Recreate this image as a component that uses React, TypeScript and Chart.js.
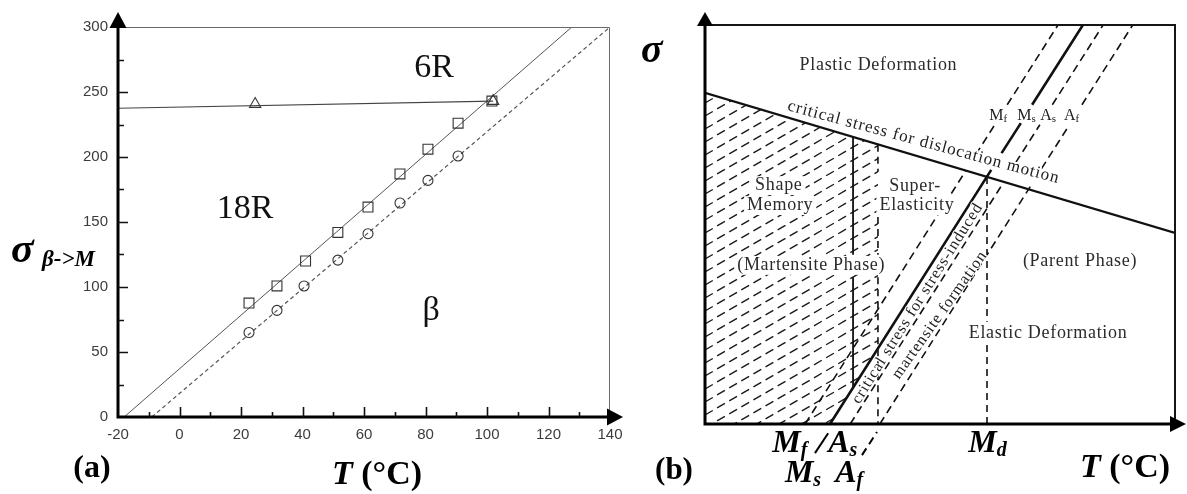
import React, { useEffect, useRef } from 'react';
import { Chart, registerables } from 'chart.js';

Chart.register(...registerables);

// ---------------- Panel (a): measured data ----------------
const xTicksA = [-20, 0, 20, 40, 60, 80, 100, 120, 140];
const yTicksA = [0, 50, 100, 150, 200, 250, 300];
const square18R_T = [22.6, 31.7, 41.0, 51.5, 61.3, 71.7, 80.8, 90.6, 101.6];
const square18R_S = [87.6, 100.8, 120.0, 142.0, 161.5, 187.0, 206.0, 226.0, 243.0];
const circleBeta_T = [22.6, 31.7, 40.5, 51.5, 61.3, 71.7, 80.8, 90.6];
const circleBeta_S = [65.0, 82.0, 100.8, 120.7, 141.0, 164.6, 182.0, 200.8];
const triangle6R_T = [24.6, 102.0];
const triangle6R_S = [240.7, 243.0];
const fit18R_T = [-18, 127.6];
const fit18R_S = [0, 300];
const fitBeta_T = [-9, 140];
const fitBeta_S = [0, 300];
const fit6R_T = [-20, 102];
const fit6R_S = [237.5, 243];
// phase labels inside panel (a): [text, T, sigma]
const phaseLabelsA: [string, number, number][] = [
  ['6R', 82.8, 261.5],
  ['18R', 21.3, 153],
  ['β', 81.8, 75],
];

// ---------------- Panel (b): schematic (0..100 units) ----------------
// each segment: [x1, y1, x2, y2]
const dislocationSeg = [[0, 83.0, 100, 47.9]];
const msSeg = [[26.6, 0, 60.9, 63.7], [63.1, 67.9, 67.2, 75.4], [69.6, 80, 80.4, 100]];
const mfSeg = [[21.3, 0, 55.5, 63.5], [57.6, 67.5, 61.65, 75], [64.3, 80, 75.1, 100]];
const asSeg = [[30.9, 0, 63.6, 60.7], [66.1, 65.5, 71.25, 75], [73.9, 80, 84.7, 100]];
const afSeg = [[37.2, 0, 69.2, 59.5], [71.6, 64, 77.55, 75], [80.2, 80, 91.0, 100]];
const smVertSeg = [[31.5, 71.9, 31.5, 42.4], [31.5, 36.8, 31.5, 9.3]];
const seVertSeg = [[36.8, 70.0, 36.8, 63.2], [36.8, 51.9, 36.8, 42.4], [36.8, 36.8, 36.8, 0]];
const mdSeg = [[60, 61.9, 60, 25.6], [60, 19.8, 60, 0]];
const hatchX = [0, 36.8, 36.8, 26.6, 0];
const hatchY = [83.0, 70.0, 19.0, 0, 0];
// region labels: [text, x, y]
const regionLabelsB: [string, number, number][] = [
  ['Plastic Deformation', 36.9, 88.7],
  ['Shape', 15.7, 58.6],
  ['Memory', 16.0, 53.6],
  ['Super-', 44.7, 58.4],
  ['Elasticity', 45.1, 53.6],
  ['(Martensite Phase)', 22.6, 38.6],
  ['(Parent Phase)', 79.8, 39.6],
  ['Elastic Deformation', 73.0, 21.6],
];
// text along lines: [text, x1, y1, x2, y2]
const alongLabelsB: [string, number, number, number, number][] = [
  ['critical stress for dislocation motion', 17.4, 78.7, 74.9, 60.4],
  ['critical stress for stress-induced', 31.9, 5.5, 58.1, 54.9],
  ['martensite formation', 40.4, 11.8, 59.1, 42.9],
];
// small transformation labels on top: [main, sub, x, y]
const topLabelsB: [string, string, number, number][] = [
  ['M', 'f', 62.4, 76.2],
  ['M', 's', 68.4, 76.2],
  ['A', 's', 73.0, 76.2],
  ['A', 'f', 78.0, 76.2],
];
// axis labels below panel (b): [main, sub, x(left), y(baseline)]
const bottomLabelsB: [string, string, number, number][] = [
  ['M', 'f', 14.3, -7.0],
  ['A', 's', 26.2, -7.0],
  ['M', 's', 17.0, -14.5],
  ['A', 'f', 27.7, -14.5],
  ['M', 'd', 56.0, -7.0],
];
const pointerSolid = [23.4, -7.3, 26.2, -2.3];
const pointerDashed = [33.4, -7.8, 36.6, -2.0];

const SERIF = '"Liberation Serif", "Times New Roman", serif';
const SANS = '"Liberation Sans", Arial, sans-serif';

function xy(xs: number[], ys: number[]) {
  return xs.map((x, i) => ({ x, y: ys[i] }));
}
function segs(list: number[][]) {
  const out: any[] = [];
  list.forEach((s) => {
    out.push({ x: s[0], y: s[1] }, { x: s[2], y: s[3] }, { x: s[2], y: null });
  });
  return out;
}

function fillText(ctx: CanvasRenderingContext2D, s: string, x: number, y: number, font: string, align: CanvasTextAlign = 'center', color = '#000', spacing = '0px') {
  ctx.font = font;
  ctx.textAlign = align;
  ctx.textBaseline = 'alphabetic';
  ctx.fillStyle = color;
  (ctx as any).letterSpacing = spacing;
  ctx.fillText(s, x, y);
  (ctx as any).letterSpacing = '0px';
}

function labelWithBg(ctx: CanvasRenderingContext2D, s: string, x: number, y: number, size: number, color: string, spacing: string) {
  ctx.font = `${size}px ${SERIF}`;
  (ctx as any).letterSpacing = spacing;
  const w = ctx.measureText(s).width;
  (ctx as any).letterSpacing = '0px';
  ctx.fillStyle = '#fff';
  ctx.fillRect(x - w / 2 - 3, y - size * 0.78, w + 6, size * 1.05);
  fillText(ctx, s, x, y, `${size}px ${SERIF}`, 'center', color, spacing);
}

function subText(ctx: CanvasRenderingContext2D, main: string, sub: string, x: number, y: number, mainFont: string, subFont: string, subDy: number, align: 'left' | 'center', color = '#000') {
  ctx.font = mainFont;
  (ctx as any).letterSpacing = '0px';
  const wm = ctx.measureText(main).width;
  ctx.font = subFont;
  const ws = ctx.measureText(sub).width;
  const left = align === 'left' ? x : x - (wm + ws) / 2;
  fillText(ctx, main, left, y, mainFont, 'left', color);
  fillText(ctx, sub, left + wm, y + subDy, subFont, 'left', color);
}

function alongText(ctx: CanvasRenderingContext2D, s: string, x1: number, y1: number, x2: number, y2: number, font: string, color: string, halo: number) {
  const dx = x2 - x1, dy = y2 - y1;
  const len = Math.hypot(dx, dy);
  const ang = Math.atan2(dy, dx);
  ctx.save();
  ctx.translate(x1, y1);
  ctx.rotate(ang);
  ctx.font = font;
  ctx.textAlign = 'left';
  ctx.textBaseline = 'alphabetic';
  (ctx as any).letterSpacing = '0px';
  const w = ctx.measureText(s).width;
  const sp = (len - w) / Math.max(1, s.length - 1);
  (ctx as any).letterSpacing = sp.toFixed(2) + 'px';
  if (halo > 0) {
    ctx.strokeStyle = '#fff';
    ctx.lineWidth = halo;
    ctx.lineJoin = 'round';
    ctx.strokeText(s, 0, 0);
  }
  ctx.fillStyle = color;
  ctx.fillText(s, 0, 0);
  (ctx as any).letterSpacing = '0px';
  ctx.restore();
}

const pluginA = {
  id: 'decorA',
  afterDraw(chart: any) {
    const { ctx, chartArea: a, scales } = chart;
    const x = scales.x, y = scales.y;
    ctx.save();
    // thin frame (top, right)
    ctx.strokeStyle = '#6a6a6a';
    ctx.lineWidth = 1;
    ctx.beginPath();
    ctx.moveTo(a.left, Math.round(y.getPixelForValue(300)) + 0.5);
    ctx.lineTo(Math.round(x.getPixelForValue(140)) - 0.5, Math.round(y.getPixelForValue(300)) + 0.5);
    ctx.lineTo(Math.round(x.getPixelForValue(140)) - 0.5, a.bottom);
    ctx.stroke();
    // thick axes
    ctx.strokeStyle = '#000';
    ctx.lineWidth = 3;
    ctx.beginPath();
    ctx.moveTo(a.left, a.bottom + 1.5);
    ctx.lineTo(a.left, a.top);
    ctx.moveTo(a.left - 1.5, a.bottom);
    ctx.lineTo(a.right, a.bottom);
    ctx.stroke();
    // arrows
    ctx.fillStyle = '#000';
    ctx.beginPath();
    ctx.moveTo(a.left - 8.5, a.top + 1);
    ctx.lineTo(a.left + 8.5, a.top + 1);
    ctx.lineTo(a.left, a.top - 15);
    ctx.closePath();
    ctx.fill();
    ctx.beginPath();
    ctx.moveTo(a.right - 3, a.bottom - 8.5);
    ctx.lineTo(a.right - 3, a.bottom + 8.5);
    ctx.lineTo(a.right + 13, a.bottom);
    ctx.closePath();
    ctx.fill();
    // inward ticks
    ctx.lineWidth = 1.6;
    ctx.strokeStyle = '#111';
    ctx.beginPath();
    for (let v = 25; v < 300; v += 25) {
      const py = Math.round(y.getPixelForValue(v)) + 0.5;
      const len = v % 50 === 0 ? 10 : 6;
      ctx.moveTo(a.left, py);
      ctx.lineTo(a.left + len, py);
    }
    for (let v = -10; v < 140; v += 10) {
      const px = Math.round(x.getPixelForValue(v)) + 0.5;
      const len = v % 20 === 0 ? 10 : 5;
      ctx.moveTo(px, a.bottom);
      ctx.lineTo(px, a.bottom - len);
    }
    ctx.stroke();
    // phase labels
    phaseLabelsA.forEach(([t, tx, ty]) => {
      fillText(ctx, t, x.getPixelForValue(tx), y.getPixelForValue(ty), `34px ${SERIF}`, 'center', '#111');
    });
    // axis titles
    fillText(ctx, 'σ', 11, 262, `bold italic 42px ${SERIF}`, 'left');
    fillText(ctx, 'β->M', 42, 266, `bold italic 23px ${SERIF}`, 'left');
    fillText(ctx, '(a)', 92, 477, `bold 32px ${SERIF}`, 'center');
    ctx.font = `bold italic 34px ${SERIF}`;
    const wT = ctx.measureText('T').width;
    fillText(ctx, 'T', 332, 484, `bold italic 34px ${SERIF}`, 'left');
    fillText(ctx, ' (°C)', 332 + wT, 484, `bold 34px ${SERIF}`, 'left');
    ctx.restore();
  },
};

const pluginB = {
  id: 'decorB',
  beforeDatasetsDraw(chart: any) {
    const { ctx, scales } = chart;
    const x = scales.x, y = scales.y;
    ctx.save();
    ctx.beginPath();
    hatchX.forEach((hx, i) => {
      const px = x.getPixelForValue(hx), py = y.getPixelForValue(hatchY[i]);
      if (i === 0) ctx.moveTo(px, py); else ctx.lineTo(px, py);
    });
    ctx.closePath();
    ctx.clip();
    const x0 = x.getPixelForValue(0), x1 = x.getPixelForValue(40);
    const yTop = y.getPixelForValue(100), yBot = y.getPixelForValue(0);
    const slope = 0.58, gap = 13;
    ctx.strokeStyle = '#1a1a1a';
    ctx.lineWidth = 1.4;
    ctx.setLineDash([9, 5]);
    ctx.beginPath();
    for (let py = yTop; py < yBot + slope * (x1 - x0) + gap; py += gap) {
      ctx.moveTo(x0, py);
      ctx.lineTo(x1, py - slope * (x1 - x0));
    }
    ctx.stroke();
    ctx.restore();
  },
  afterDatasetsDraw(chart: any) {
    const { ctx, chartArea: a, scales } = chart;
    const x = scales.x, y = scales.y;
    const P = (ux: number, uy: number) => [x.getPixelForValue(ux), y.getPixelForValue(uy)];
    ctx.save();
    // frame top/right
    ctx.strokeStyle = '#151515';
    ctx.lineWidth = 2;
    ctx.beginPath();
    ctx.moveTo(a.left, a.top);
    ctx.lineTo(a.right, a.top);
    ctx.lineTo(a.right, a.bottom);
    ctx.stroke();
    // thick axes
    ctx.strokeStyle = '#000';
    ctx.lineWidth = 3;
    ctx.beginPath();
    ctx.moveTo(a.left, a.bottom + 1.5);
    ctx.lineTo(a.left, a.top);
    ctx.moveTo(a.left - 1.5, a.bottom);
    ctx.lineTo(a.right, a.bottom);
    ctx.stroke();
    ctx.fillStyle = '#000';
    ctx.beginPath();
    ctx.moveTo(a.left - 8, a.top + 1);
    ctx.lineTo(a.left + 8, a.top + 1);
    ctx.lineTo(a.left, a.top - 13);
    ctx.closePath();
    ctx.fill();
    ctx.beginPath();
    ctx.moveTo(a.right - 5, a.bottom - 8);
    ctx.lineTo(a.right - 5, a.bottom + 8);
    ctx.lineTo(a.right + 11, a.bottom);
    ctx.closePath();
    ctx.fill();
    // region labels (white background cuts hatch / lines, as in the figure)
    regionLabelsB.forEach(([t, ux, uy]) => {
      const [px, py] = P(ux, uy);
      labelWithBg(ctx, t, px, py, 18, '#2b2b2b', '0.7px');
    });
    // along-line labels
    alongLabelsB.forEach(([t, ax, ay, bx, by], i) => {
      const [p1x, p1y] = P(ax, ay);
      const [p2x, p2y] = P(bx, by);
      if (i === 0) alongText(ctx, t, p1x, p1y, p2x, p2y, `17px ${SERIF}`, '#1e1e1e', 4);
      else {
        const dx = p2x - p1x, dy = p2y - p1y, L = Math.hypot(dx, dy);
        const nx = -dy / L, ny = dx / L;
        const off = 5;
        alongText(ctx, t, p1x + nx * off, p1y + ny * off, p2x + nx * off, p2y + ny * off, `16px ${SERIF}`, '#1e1e1e', 2);
      }
    });
    // top transformation labels
    topLabelsB.forEach(([m, s, ux, uy]) => {
      const [px, py] = P(ux, uy);
      subText(ctx, m, s, px, py, `16px ${SERIF}`, `11px ${SERIF}`, 2, 'center', '#1e1e1e');
    });
    // bottom temperature labels
    bottomLabelsB.forEach(([m, s, ux, uy]) => {
      const [px, py] = P(ux, uy);
      subText(ctx, m, s, px, py, `bold italic 32px ${SERIF}`, `bold italic 20px ${SERIF}`, 4, 'left');
    });
    // pointers
    ctx.strokeStyle = '#000';
    ctx.lineWidth = 2;
    ctx.beginPath();
    let [q1x, q1y] = P(pointerSolid[0], pointerSolid[1]);
    let [q2x, q2y] = P(pointerSolid[2], pointerSolid[3]);
    ctx.moveTo(q1x, q1y);
    ctx.lineTo(q2x, q2y);
    ctx.stroke();
    ctx.setLineDash([8, 5]);
    ctx.beginPath();
    [q1x, q1y] = P(pointerDashed[0], pointerDashed[1]);
    [q2x, q2y] = P(pointerDashed[2], pointerDashed[3]);
    ctx.moveTo(q1x, q1y);
    ctx.lineTo(q2x, q2y);
    ctx.stroke();
    ctx.setLineDash([]);
    // axis titles
    fillText(ctx, 'σ', 1, 62, `bold italic 40px ${SERIF}`, 'left');
    fillText(ctx, '(b)', 34, 479, `bold 31px ${SERIF}`, 'center');
    ctx.font = `bold italic 34px ${SERIF}`;
    const wT = ctx.measureText('T').width;
    fillText(ctx, 'T', 440, 477, `bold italic 34px ${SERIF}`, 'left');
    fillText(ctx, ' (°C)', 440 + wT, 477, `bold 34px ${SERIF}`, 'left');
    ctx.restore();
  },
};

const tickFont = { family: SANS, size: 15 };

function zeroPad(s: any) {
  s.paddingLeft = 0;
  s.paddingRight = 0;
  s.paddingTop = 0;
  s.paddingBottom = 0;
}

function lineDs(data: any[], width: number, dash: number[] = [], color = '#111') {
  return {
    data,
    showLine: true,
    borderColor: color,
    borderWidth: width,
    borderDash: dash,
    pointRadius: 0,
    fill: false,
  };
}

export default function App() {
  const refA = useRef<HTMLCanvasElement>(null);
  const refB = useRef<HTMLCanvasElement>(null);

  useEffect(() => {
    const chartA = new Chart(refA.current as HTMLCanvasElement, {
      type: 'scatter',
      data: {
        datasets: [
          { data: xy(square18R_T, square18R_S), pointStyle: 'rect', pointRadius: 7, borderColor: '#333', backgroundColor: 'rgba(0,0,0,0)', borderWidth: 1.1 } as any,
          { data: xy(circleBeta_T, circleBeta_S), pointStyle: 'circle', pointRadius: 5, borderColor: '#333', backgroundColor: 'rgba(0,0,0,0)', borderWidth: 1.1 } as any,
          { data: xy(triangle6R_T, triangle6R_S), pointStyle: 'triangle', pointRadius: 6.5, borderColor: '#333', backgroundColor: 'rgba(0,0,0,0)', borderWidth: 1.1 } as any,
          lineDs(xy(fit18R_T, fit18R_S), 1, [], '#555'),
          lineDs(xy(fitBeta_T, fitBeta_S), 1.2, [4, 3], '#555'),
          lineDs(xy(fit6R_T, fit6R_S), 1.1, [], '#444'),
        ],
      },
      options: {
        animation: false,
        responsive: false,
        devicePixelRatio: 1,
        layout: { padding: { top: 27, right: 30, left: 0, bottom: 0 } },
        plugins: { legend: { display: false }, tooltip: { enabled: false } },
        scales: {
          x: {
            type: 'linear', min: -20, max: 140,
            afterBuildTicks: (s: any) => { s.ticks = xTicksA.map((v) => ({ value: v })); },
            ticks: { autoSkip: false, maxRotation: 0, padding: 9, color: '#3c3c3c', font: tickFont },
            grid: { display: false, drawTicks: false },
            border: { display: false },
            afterFit: (s: any) => { s.height = 77; zeroPad(s); },
          },
          y: {
            type: 'linear', min: 0, max: 300,
            afterBuildTicks: (s: any) => { s.ticks = yTicksA.map((v) => ({ value: v })); },
            ticks: { autoSkip: false, padding: 10, color: '#3c3c3c', font: tickFont },
            grid: { display: false, drawTicks: false },
            border: { display: false },
            afterFit: (s: any) => { s.width = 118; zeroPad(s); },
          },
        },
      } as any,
      plugins: [pluginA],
    });

    const chartB = new Chart(refB.current as HTMLCanvasElement, {
      type: 'scatter',
      data: {
        datasets: [
          lineDs(segs(dislocationSeg), 2.2),
          lineDs(segs(msSeg), 2.6),
          lineDs(segs(smVertSeg), 1.8),
          lineDs(segs(mfSeg), 1.6, [8, 5]),
          lineDs(segs(asSeg), 1.6, [8, 5]),
          lineDs(segs(afSeg), 1.6, [8, 5]),
          lineDs(segs(seVertSeg), 1.6, [7, 5]),
          lineDs(segs(mdSeg), 1.6, [7, 5]),
        ],
      },
      options: {
        animation: false,
        responsive: false,
        devicePixelRatio: 1,
        layout: { padding: { top: 25, right: 12, left: 65, bottom: 70 } },
        plugins: { legend: { display: false }, tooltip: { enabled: false } },
        scales: {
          x: { type: 'linear', min: 0, max: 100, display: false },
          y: { type: 'linear', min: 0, max: 100, display: false },
        },
      } as any,
      plugins: [pluginB],
    });

    return () => {
      chartA.destroy();
      chartB.destroy();
    };
  }, []);

  return (
    <div style={{ position: 'fixed', left: 0, top: 0, width: 1187, height: 494, background: '#fff', overflow: 'hidden' }}>
      <canvas ref={refA} width={640} height={494} style={{ position: 'absolute', left: 0, top: 0, width: 640, height: 494 }} />
      <canvas ref={refB} width={547} height={494} style={{ position: 'absolute', left: 640, top: 0, width: 547, height: 494 }} />
    </div>
  );
}
